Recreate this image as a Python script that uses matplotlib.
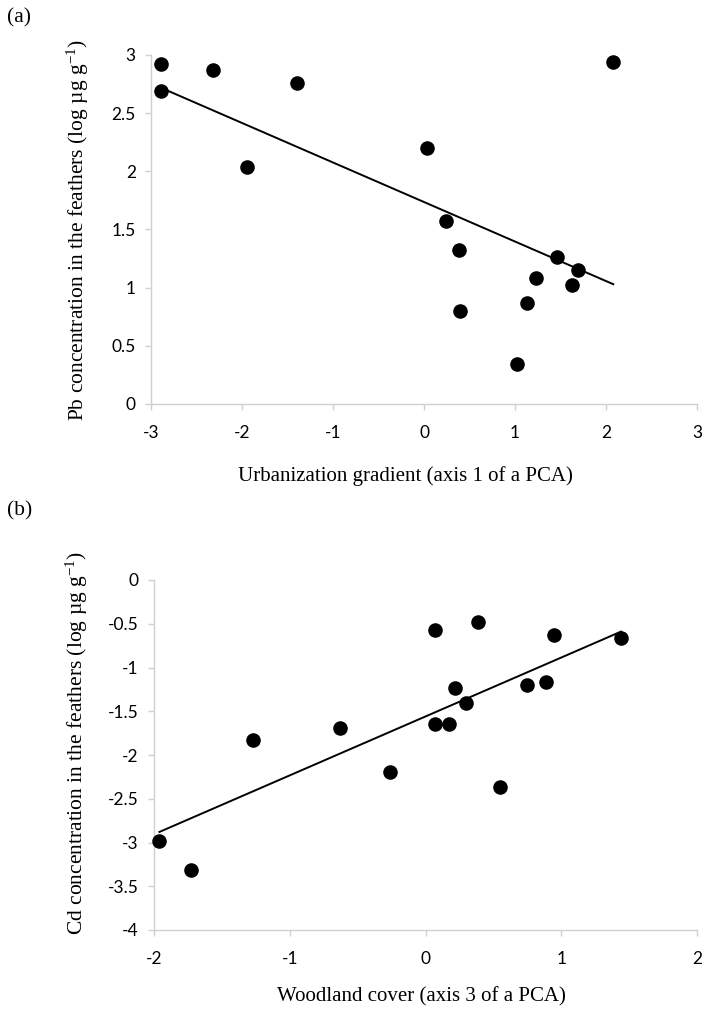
import numpy as np
import matplotlib
matplotlib.use("Agg")
import matplotlib.pyplot as plt

plt.rcParams['mathtext.fontset'] = 'custom'
plt.rcParams['mathtext.rm'] = 'Liberation Serif'
plt.rcParams['mathtext.it'] = 'Liberation Serif'

# panel (a): Pb vs urbanization gradient
pb_x = [-2.89, -2.89, -2.32, -1.40, -1.95, 0.03, 2.08, 0.245, 0.39, 0.40,
        1.46, 1.69, 1.23, 1.63, 1.13, 1.02]
pb_y = [2.92, 2.69, 2.87, 2.76, 2.04, 2.20, 2.94, 1.57, 1.32, 0.80,
        1.26, 1.15, 1.08, 1.02, 0.87, 0.34]

# panel (b): Cd vs woodland cover
cd_x = [-1.96, -1.73, -1.27, -0.63, -0.26, 0.07, 0.39, 0.945, 1.44, 0.215,
        0.30, 0.07, 0.175, 0.75, 0.89, 0.55]
cd_y = [-2.98, -3.31, -1.83, -1.69, -2.19, -0.57, -0.48, -0.63, -0.66, -1.23,
        -1.40, -1.64, -1.64, -1.20, -1.17, -2.37]

a_xticks = [-3, -2, -1, 0, 1, 2, 3]
a_yticks = [0, 0.5, 1, 1.5, 2, 2.5, 3]
b_xticks = [-2, -1, 0, 1, 2]
b_yticks = [-4, -3.5, -3, -2.5, -2, -1.5, -1, -0.5, 0]

W, H = 702, 1009
fig = plt.figure(figsize=(W / 100, H / 100), dpi=100)

GREY = '#d0d0d0'
TICKFONT = 'Lato'
SERIF = 'Liberation Serif'


def style_axes(ax, xticks, yticks):
    for s in ['top', 'right']:
        ax.spines[s].set_visible(False)
    for s in ['left', 'bottom']:
        ax.spines[s].set_color(GREY)
        ax.spines[s].set_linewidth(1.0)
    ax.set_xticks(xticks)
    ax.set_yticks(yticks)
    ax.set_xticklabels([f'{t:g}' for t in xticks], family=TICKFONT, fontsize=12.5)
    ax.set_yticklabels([f'{t:g}' for t in yticks], family=TICKFONT, fontsize=12.5)
    ax.tick_params(axis='x', direction='out', length=4, width=1.0, color=GREY, pad=11)
    ax.tick_params(axis='y', direction='out', length=4, width=1.0, color=GREY, pad=7)
    ax.set_xlim(xticks[0], xticks[-1])
    ax.set_ylim(yticks[0], yticks[-1])


def scatter_with_trend(ax, x, y):
    x = np.array(x)
    y = np.array(y)
    ax.scatter(x, y, s=110, color='black', zorder=3, clip_on=False, linewidths=0)
    slope, intercept = np.polyfit(x, y, 1)
    xs = np.array([x.min(), x.max()])
    ax.plot(xs, slope * xs + intercept, color='black', lw=1.4, zorder=2)


# panel (a)
ax1 = fig.add_axes([151 / W, 1 - 404 / H, 546 / W, 349 / H])
style_axes(ax1, a_xticks, a_yticks)
scatter_with_trend(ax1, pb_x, pb_y)
fig.text(405 / W, 1 - 476 / H, 'Urbanization gradient (axis 1 of a PCA)',
         family=SERIF, fontsize=15, ha='center', va='center')
fig.text(78 / W, 1 - 230 / H, r'Pb concentration in the feathers (log µg g$^{-1}$)',
         family=SERIF, fontsize=15.5, ha='center', va='center', rotation=90)
fig.text(7 / W, 1 - 18 / H, '(a)', family=SERIF, fontsize=15.5, ha='left', va='center')

# panel (b)
ax2 = fig.add_axes([154 / W, 1 - 930 / H, 543 / W, 350 / H])
style_axes(ax2, b_xticks, b_yticks)
scatter_with_trend(ax2, cd_x, cd_y)
fig.text(421 / W, 1 - 997 / H, 'Woodland cover (axis 3 of a PCA)',
         family=SERIF, fontsize=15, ha='center', va='center')
fig.text(77 / W, 1 - 743 / H, r'Cd concentration in the feathers (log µg g$^{-1}$)',
         family=SERIF, fontsize=15.5, ha='center', va='center', rotation=90)
fig.text(7 / W, 1 - 511 / H, '(b)', family=SERIF, fontsize=15.5, ha='left', va='center')

fig.savefig('out.png', dpi=100, facecolor='white')
